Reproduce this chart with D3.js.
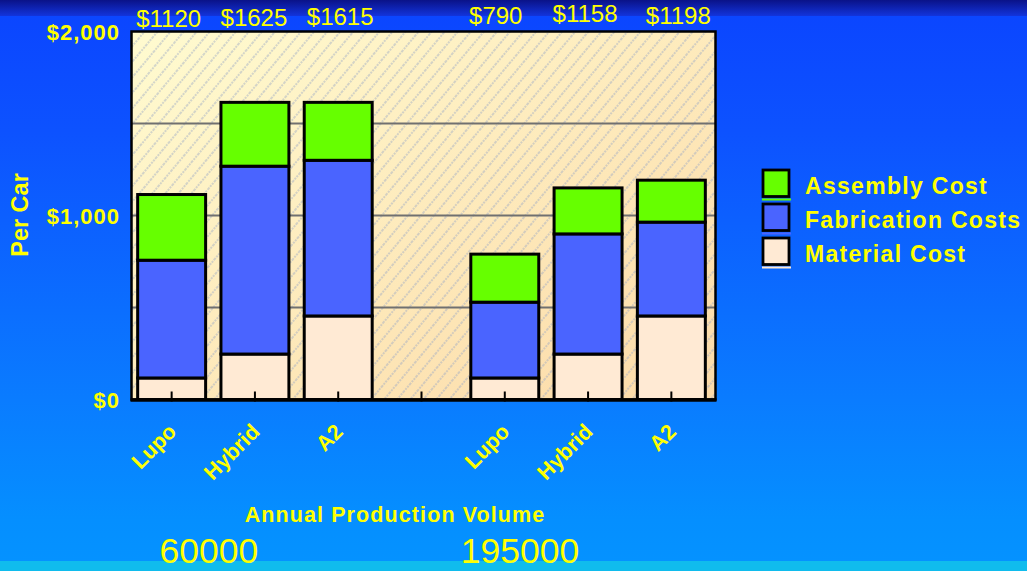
<!DOCTYPE html>
<html>
<head>
<meta charset="utf-8">
<script src="https://cdn.jsdelivr.net/npm/d3@7"></script>
<style>
	html, body { margin: 0; padding: 0; overflow: hidden; }
	svg { display: block; font-family: "Liberation Sans", Arial, sans-serif; }
</style>
</head>
<body>
<svg id="chart" width="1027" height="571"></svg>
<script>
// chart values
const categories = ['Lupo', 'Hybrid', 'A2', '', 'Lupo', 'Hybrid', 'A2'];
const materialCost = [117, 247, 454, 0, 117, 247, 454];
const fabricationCosts = [640, 1021, 846, 0, 412, 653, 510];
const assemblyCost = [357, 347, 315, 0, 261, 250, 228];
const totalLabels = ['$1120', '$1625', '$1615', '', '$790', '$1158', '$1198'];
const volumes = ['60000', '195000'];
const yTickValues = [0, 1000, 2000];
const gridValues = [500, 1000, 1500];
const seriesNames = ['Assembly Cost', 'Fabrication Costs', 'Material Cost'];

const colors = {
	'Material Cost': '#ffead4',
	'Fabrication Costs': '#4a64ff',
	'Assembly Cost': '#66ff00'
};
const yellow = '#ffff00';

const svg = d3.select('#chart');
const W = 1027, H = 571;
const plot = { left: 131.5, top: 31.5, right: 715.5, bottom: 399.5 };

const defs = svg.append('defs');

// page background
const bgTop = defs.append('linearGradient').attr('id', 'bgTop')
	.attr('x1', 0).attr('y1', 0).attr('x2', 0).attr('y2', 1);
bgTop.append('stop').attr('offset', 0).attr('stop-color', '#0a1288');
bgTop.append('stop').attr('offset', 1).attr('stop-color', '#1234dc');

const bgMain = defs.append('linearGradient').attr('id', 'bgMain')
	.attr('x1', 0).attr('y1', 0).attr('x2', 0).attr('y2', 1);
[[0, '#0b46ff'], [0.21, '#0d52ff'], [0.705, '#0a7cff'], [0.925, '#058fff'], [1, '#0592ff']]
	.forEach(s => bgMain.append('stop').attr('offset', s[0]).attr('stop-color', s[1]));

svg.append('rect').attr('width', W).attr('height', 16).attr('fill', 'url(#bgTop)');
svg.append('rect').attr('y', 16).attr('width', W).attr('height', 545).attr('fill', 'url(#bgMain)');
svg.append('rect').attr('y', 561).attr('width', W).attr('height', 10).attr('fill', '#10bced');

// plot background + hatch
const plotFill = defs.append('linearGradient').attr('id', 'plotFill')
	.attr('x1', 0).attr('y1', 0).attr('x2', 1).attr('y2', 1);
plotFill.append('stop').attr('offset', 0).attr('stop-color', '#fffbd0');
plotFill.append('stop').attr('offset', 1).attr('stop-color', '#fcdaa8');

const hatch = defs.append('pattern').attr('id', 'hatch')
	.attr('patternUnits', 'userSpaceOnUse')
	.attr('width', 10).attr('height', 10)
	.attr('patternTransform', 'rotate(40)');
hatch.append('line')
	.attr('x1', 1).attr('y1', 0).attr('x2', 1).attr('y2', 10)
	.attr('stroke', '#98a6c4').attr('stroke-width', 1)
	.attr('stroke-dasharray', '2,1').attr('opacity', 0.85);

svg.append('rect')
	.attr('x', plot.left).attr('y', plot.top)
	.attr('width', plot.right - plot.left).attr('height', plot.bottom - plot.top)
	.attr('fill', 'url(#plotFill)');
svg.append('rect')
	.attr('x', plot.left).attr('y', plot.top)
	.attr('width', plot.right - plot.left).attr('height', plot.bottom - plot.top)
	.attr('fill', 'url(#hatch)');

// scales
const x = d3.scaleBand()
	.domain(d3.range(categories.length))
	.range([130, 713])
	.paddingInner(0.184)
	.paddingOuter(0.092);
const y = d3.scaleLinear().domain([0, 2000]).range([plot.bottom, plot.top]);

// gridlines
svg.append('g')
	.selectAll('line')
	.data(gridValues)
	.enter()
	.append('line')
		.attr('x1', plot.left).attr('x2', plot.right)
		.attr('y1', d => y(d)).attr('y2', d => y(d))
		.attr('stroke', '#707070').attr('stroke-width', 2);

// stacked bars
const table = categories.map((c, i) => ({
	i: i,
	'Material Cost': materialCost[i],
	'Fabrication Costs': fabricationCosts[i],
	'Assembly Cost': assemblyCost[i]
}));
const stack = d3.stack().keys(['Material Cost', 'Fabrication Costs', 'Assembly Cost'])(table);

svg.append('g').classed('bars', true)
	.selectAll('g')
	.data(stack)
	.enter()
	.append('g')
		.attr('fill', d => colors[d.key])
	.selectAll('rect')
	.data(d => d.filter(p => p[1] > p[0]))
	.enter()
	.append('rect')
		.attr('x', d => x(d.data.i))
		.attr('width', x.bandwidth())
		.attr('y', d => y(d[1]))
		.attr('height', d => y(d[0]) - y(d[1]))
		.attr('stroke', '#000')
		.attr('stroke-width', 3);

// frame
svg.append('rect')
	.attr('x', plot.left).attr('y', plot.top)
	.attr('width', plot.right - plot.left).attr('height', plot.bottom - plot.top)
	.attr('fill', 'none').attr('stroke', '#000').attr('stroke-width', 2.5);
svg.append('line')
	.attr('x1', plot.left - 1).attr('x2', plot.right + 1)
	.attr('y1', plot.bottom + 0.5).attr('y2', plot.bottom + 0.5)
	.attr('stroke', '#000').attr('stroke-width', 3.5);

// category ticks (inside, pointing up)
svg.append('g')
	.selectAll('line')
	.data(categories)
	.enter()
	.append('line')
		.attr('x1', (d, i) => x(i) + x.bandwidth() / 2)
		.attr('x2', (d, i) => x(i) + x.bandwidth() / 2)
		.attr('y1', plot.bottom - 8).attr('y2', plot.bottom + 2)
		.attr('stroke', '#000').attr('stroke-width', 2);

// total labels above the plot
const labelNudge = [[-3, 27], [-1, 26], [2, 25], [0, 0], [-9, 24], [-3, 22], [7, 24]];
svg.append('g')
	.selectAll('text')
	.data(totalLabels)
	.enter()
	.append('text')
		.attr('x', (d, i) => x(i) + x.bandwidth() / 2 + labelNudge[i][0])
		.attr('y', (d, i) => labelNudge[i][1])
		.attr('text-anchor', 'middle')
		.attr('fill', yellow)
		.style('font-size', '24px')
		.text(d => d);

// y tick labels
svg.append('g')
	.selectAll('text')
	.data(yTickValues)
	.enter()
	.append('text')
		.attr('x', 120)
		.attr('y', d => y(d) + 8.5)
		.attr('text-anchor', 'end')
		.attr('fill', yellow)
		.style('font-size', '22px')
		.style('font-weight', 'bold')
		.style('letter-spacing', '1px')
		.text(d => '$' + d3.format(',')(d));

svg.append('text')
	.attr('transform', 'translate(28,215) rotate(-90)')
	.attr('text-anchor', 'middle')
	.attr('fill', yellow)
	.style('font-size', '23.5px')
	.style('font-weight', 'bold')
	.text('Per Car');

// rotated category labels
svg.append('g')
	.selectAll('text')
	.data(categories)
	.enter()
	.append('text')
		.attr('transform', (d, i) =>
			`translate(${x(i) + x.bandwidth() / 2 + 6},433) rotate(-45)`)
		.attr('text-anchor', 'end')
		.attr('fill', yellow)
		.style('font-size', '21.5px')
		.style('font-weight', 'bold')
		.text(d => d);

svg.append('text')
	.attr('x', 395).attr('y', 522)
	.attr('text-anchor', 'middle')
	.attr('fill', yellow)
	.style('font-size', '21.5px')
	.style('font-weight', 'bold')
	.style('letter-spacing', '1.1px')
	.text('Annual Production Volume');

// production volumes under each group
const groupCenter = g => (x(g * 4) + x(g * 4 + 2) + x.bandwidth()) / 2;
const volumeNudge = [-46, -68];
svg.append('g')
	.selectAll('text')
	.data(volumes)
	.enter()
	.append('text')
		.attr('x', (d, g) => groupCenter(g) + volumeNudge[g])
		.attr('y', 563)
		.attr('text-anchor', 'middle')
		.attr('fill', yellow)
		.style('font-size', '35.5px')
		.text(d => d);

// legend
const legend = svg.append('g').attr('transform', 'translate(762,169)');
const item = legend.selectAll('g')
	.data(seriesNames)
	.enter()
	.append('g')
		.attr('transform', (d, i) => `translate(0,${i * 34})`);
item.append('rect')
	.attr('x', 1).attr('y', 1)
	.attr('width', 26).attr('height', 26.5)
	.attr('fill', d => colors[d])
	.attr('stroke', '#000').attr('stroke-width', 2.8);
item.append('rect')
	.attr('x', 0).attr('y', 29.5)
	.attr('width', 29).attr('height', 2)
	.attr('fill', d => colors[d]);
item.append('text')
	.attr('x', 43).attr('y', 24.5)
	.attr('fill', yellow)
	.style('font-size', '23px')
	.style('font-weight', 'bold')
	.style('letter-spacing', '1.3px')
	.text(d => d);
</script>
</body>
</html>
